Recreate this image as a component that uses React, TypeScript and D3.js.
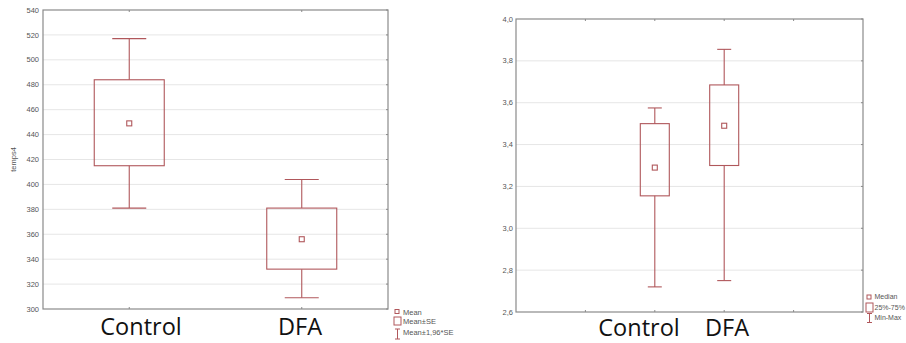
import React from "react";
import * as d3 from "d3";

const categories = ["Control", "DFA"];
// left chart: mean ± SE ± 1.96*SE
const leftMean = [449, 356];
const leftSeLow = [415, 332];
const leftSeHigh = [484, 381];
const leftCiLow = [381, 309];
const leftCiHigh = [517, 404];
const leftTicks = [300, 320, 340, 360, 380, 400, 420, 440, 460, 480, 500, 520, 540];
// right chart: median, quartiles, min-max
const rightMedian = [3.29, 3.49];
const rightQ1 = [3.155, 3.3];
const rightQ3 = [3.5, 3.685];
const rightMin = [2.72, 2.75];
const rightMax = [3.575, 3.855];
const rightTicks = [2.6, 2.8, 3.0, 3.2, 3.4, 3.6, 3.8, 4.0];

const RED = "#b0575b";
const FRAME = "#8a8a8a";
const GRID = "#e6e6e6";
const LABEL = "#555";

export default function App() {
  // Left panel
  const lx0 = 43, lx1 = 388, ly0 = 10, ly1 = 309;
  const ly = d3.scaleLinear().domain([300, 540]).range([ly1, ly0]);
  const lxs = d3.scaleLinear().domain([0, 4]).range([lx0, lx1]);
  const lxPos = [1, 3];

  // Right panel
  const rx0 = 516, rx1 = 863, ry0 = 19, ry1 = 312;
  const ry = d3.scaleLinear().domain([2.6, 4.0]).range([ry1, ry0]);
  const rxs = d3.scaleLinear().domain([0, 5]).range([rx0, rx1]);
  const rxPos = [2, 3];
  const rxTicks = [1, 2, 3, 4];
  const fmt = (v: number) => v.toFixed(1).replace(".", ",");

  const small = { fontFamily: "Liberation Sans, Arial, sans-serif", fontSize: 7.5, fill: LABEL };
  const smallR = { ...small, fontSize: 7 };
  const big = { fontFamily: "Open Sans, Liberation Sans, sans-serif", fontSize: 23.5, fill: "#111" };

  return (
    <svg width={906} height={343} style={{ position: "absolute", left: 0, top: 0, background: "#fff" }}>
      {/* ===== Left chart ===== */}
      {leftTicks.map((t) => (
        <g key={"lg" + t}>
          {t !== 300 && t !== 540 && (
            <line x1={lx0} x2={lx1} y1={ly(t)} y2={ly(t)} stroke={GRID} strokeWidth={1} />
          )}
          <line x1={lx1 - 2} x2={lx1} y1={ly(t)} y2={ly(t)} stroke={FRAME} />
          <text x={lx0 - 4} y={ly(t)} dy="0.35em" textAnchor="end" {...small}>{t}</text>
        </g>
      ))}
      <rect x={lx0} y={ly0} width={lx1 - lx0} height={ly1 - ly0} fill="none" stroke={FRAME} strokeWidth={1.2} />
      {lxPos.map((p) => (
        <g key={"lxt" + p}>
          <line x1={lxs(p)} x2={lxs(p)} y1={ly0} y2={ly0 + 2} stroke={FRAME} />
          <line x1={lxs(p)} x2={lxs(p)} y1={ly1} y2={ly1 - 2} stroke={FRAME} />
        </g>
      ))}
      <text transform={`translate(16,${(ly0 + ly1) / 2}) rotate(-90)`} textAnchor="middle" {...small}>temps4</text>
      {categories.map((c, i) => {
        const cx = lxs(lxPos[i]);
        return (
          <g key={"lb" + c} stroke={RED} strokeWidth={1.1} fill="none">
            <line x1={cx} x2={cx} y1={ly(leftCiHigh[i])} y2={ly(leftSeHigh[i])} />
            <line x1={cx} x2={cx} y1={ly(leftSeLow[i])} y2={ly(leftCiLow[i])} />
            <line x1={cx - 17} x2={cx + 17} y1={ly(leftCiHigh[i])} y2={ly(leftCiHigh[i])} />
            <line x1={cx - 17} x2={cx + 17} y1={ly(leftCiLow[i])} y2={ly(leftCiLow[i])} />
            <rect x={cx - 35} y={ly(leftSeHigh[i])} width={70} height={ly(leftSeLow[i]) - ly(leftSeHigh[i])} />
            <rect x={cx - 2.5} y={ly(leftMean[i]) - 2.5} width={5} height={5} />
          </g>
        );
      })}
      <text x={141} y={335} textAnchor="middle" {...big}>Control</text>
      <text x={300} y={335} textAnchor="middle" {...big}>DFA</text>
      {/* left legend */}
      <g stroke={RED} fill="none" strokeWidth={1}>
        <rect x={395} y={309.5} width={4} height={4} />
        <rect x={394} y={317} width={7} height={8} />
        <line x1={397.5} x2={397.5} y1={329} y2={339} />
        <line x1={395} x2={400} y1={329} y2={329} />
        <line x1={395} x2={400} y1={339} y2={339} />
      </g>
      <text x={403} y={312} dy="0.35em" {...small}>Mean</text>
      <text x={403} y={321.5} dy="0.35em" {...small}>Mean±SE</text>
      <text x={403} y={332} dy="0.35em" {...small}>Mean±1,96*SE</text>

      {/* ===== Right chart ===== */}
      {rightTicks.map((t) => (
        <g key={"rg" + t}>
          {t !== 2.6 && t !== 4.0 && (
            <line x1={rx0} x2={rx1} y1={ry(t)} y2={ry(t)} stroke={GRID} strokeWidth={1} />
          )}
          <line x1={rx1 - 2} x2={rx1} y1={ry(t)} y2={ry(t)} stroke={FRAME} />
          <text x={rx0 - 3} y={ry(t)} dy="0.35em" textAnchor="end" {...small}>{fmt(t)}</text>
        </g>
      ))}
      <rect x={rx0} y={ry0} width={rx1 - rx0} height={ry1 - ry0} fill="none" stroke={FRAME} strokeWidth={1.2} />
      {rxTicks.map((p) => (
        <g key={"rxt" + p}>
          <line x1={rxs(p)} x2={rxs(p)} y1={ry1} y2={ry1 - 2} stroke={FRAME} />
          <line x1={rxs(p)} x2={rxs(p)} y1={ry0} y2={ry0 + 2} stroke={FRAME} />
        </g>
      ))}
      {categories.map((c, i) => {
        const cx = rxs(rxPos[i]);
        return (
          <g key={"rb" + c} stroke={RED} strokeWidth={1.1} fill="none">
            <line x1={cx} x2={cx} y1={ry(rightMax[i])} y2={ry(rightQ3[i])} />
            <line x1={cx} x2={cx} y1={ry(rightQ1[i])} y2={ry(rightMin[i])} />
            <line x1={cx - 7} x2={cx + 7} y1={ry(rightMax[i])} y2={ry(rightMax[i])} />
            <line x1={cx - 7} x2={cx + 7} y1={ry(rightMin[i])} y2={ry(rightMin[i])} />
            <rect x={cx - 14.5} y={ry(rightQ3[i])} width={29} height={ry(rightQ1[i]) - ry(rightQ3[i])} />
            <rect x={cx - 2.5} y={ry(rightMedian[i]) - 2.5} width={5} height={5} />
          </g>
        );
      })}
      <text x={639} y={336} textAnchor="middle" {...big}>Control</text>
      <text x={727} y={336} textAnchor="middle" {...big}>DFA</text>
      {/* right legend */}
      <g stroke={RED} fill="none" strokeWidth={1}>
        <rect x={867} y={295} width={4} height={4} />
        <rect x={866} y={303} width={7} height={9} />
        <line x1={869.5} x2={869.5} y1={313.5} y2={322.5} />
        <line x1={867} x2={872} y1={313.5} y2={313.5} />
        <line x1={867} x2={872} y1={322.5} y2={322.5} />
      </g>
      <text x={874.5} y={297} dy="0.35em" {...smallR}>Median</text>
      <text x={874.5} y={307.5} dy="0.35em" {...smallR}>25%-75%</text>
      <text x={874.5} y={318} dy="0.35em" {...smallR}>Min-Max</text>
    </svg>
  );
}
